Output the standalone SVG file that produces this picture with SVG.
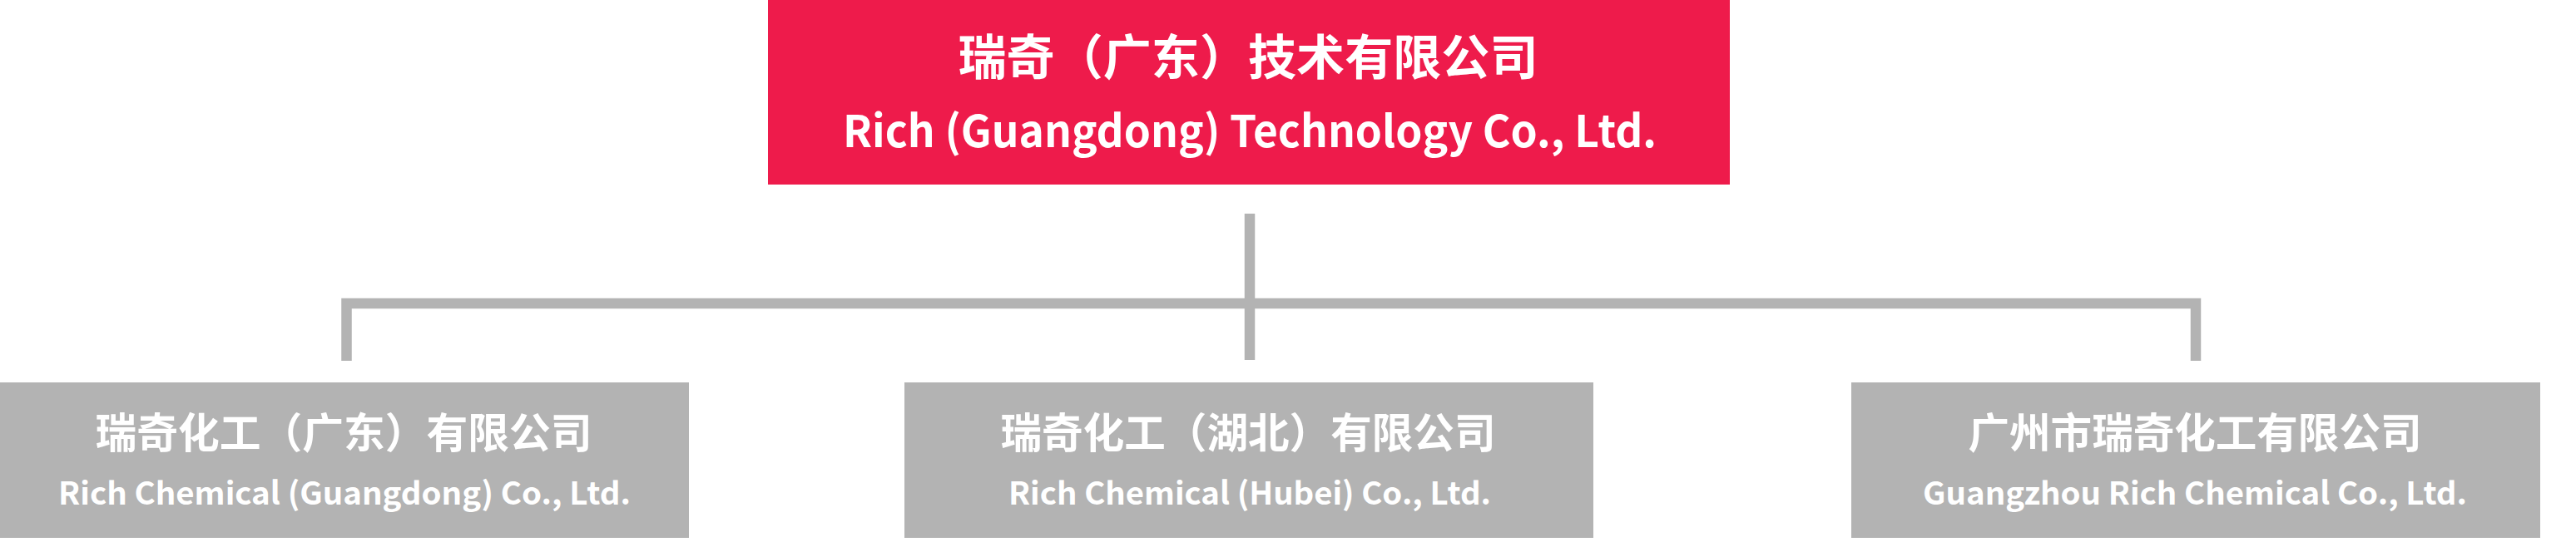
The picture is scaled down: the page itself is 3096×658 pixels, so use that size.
<svg xmlns="http://www.w3.org/2000/svg" width="3096" height="658" viewBox="0 0 3096 658">
<style>
.cn{font-family:"Noto Sans CJK SC","Noto Sans",sans-serif;font-weight:bold;fill:#FFFFFF;text-anchor:middle}
.en{font-family:"Noto Sans CJK SC","Noto Sans",sans-serif;font-weight:bold;fill:#FFFFFF;text-anchor:middle}
.top{fill:#EE1B4B}
.sub{fill:#B3B3B3}
.conn{fill:none;stroke:#B3B3B3;stroke-width:12.5;stroke-linejoin:miter;stroke-linecap:butt}
</style>
<rect width="3096" height="658" fill="#FFFFFF"/>
<g id="connectors">
<path class="conn" d="M1502 257 V433"/>
<path class="conn" d="M416.5 434 V365 H2639 V434"/>
</g>
<g id="node-rich-guangdong-tech">
<rect class="top" x="923" y="0" width="1156" height="222"/>
<text class="cn" x="1500" y="90" font-size="58" textLength="697" lengthAdjust="spacingAndGlyphs">瑞奇（广东）技术有限公司</text>
<text class="en" x="1502" y="177" font-size="53" textLength="978" lengthAdjust="spacingAndGlyphs">Rich (Guangdong) Technology Co., Ltd.</text>
</g>
<g id="node-rich-chemical-guangdong">
<rect class="sub" x="0" y="460" width="828" height="187"/>
<text class="cn" x="413" y="539" font-size="50" textLength="597" lengthAdjust="spacingAndGlyphs">瑞奇化工（广东）有限公司</text>
<text class="en" x="414" y="607" font-size="38" textLength="688" lengthAdjust="spacingAndGlyphs">Rich Chemical (Guangdong) Co., Ltd.</text>
</g>
<g id="node-rich-chemical-hubei">
<rect class="sub" x="1087" y="460" width="828" height="187"/>
<text class="cn" x="1500" y="539" font-size="50" textLength="595" lengthAdjust="spacingAndGlyphs">瑞奇化工（湖北）有限公司</text>
<text class="en" x="1502" y="607" font-size="38" textLength="580" lengthAdjust="spacingAndGlyphs">Rich Chemical (Hubei) Co., Ltd.</text>
</g>
<g id="node-guangzhou-rich-chemical">
<rect class="sub" x="2225" y="460" width="828" height="187"/>
<text class="cn" x="2638" y="539" font-size="50" textLength="545" lengthAdjust="spacingAndGlyphs">广州市瑞奇化工有限公司</text>
<text class="en" x="2638" y="607" font-size="38" textLength="654" lengthAdjust="spacingAndGlyphs">Guangzhou Rich Chemical Co., Ltd.</text>
</g>
</svg>
